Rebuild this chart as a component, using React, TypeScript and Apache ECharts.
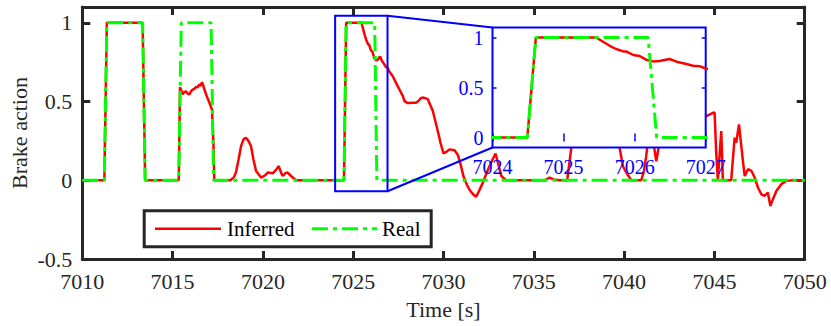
import React, { useEffect, useRef } from "react";
import * as echarts from "echarts";

// ---- data ----
const realT = [7010, 7011.22, 7011.36, 7013.34, 7013.48, 7015.34, 7015.48, 7017.13, 7017.27, 7024.49, 7024.61, 7026.19, 7026.31, 7050];
const realV = [0, 0, 1, 1, 0, 0, 1, 1, 0, 0, 1, 1, 0, 0];

const inferredT = [
  7010, 7011.22, 7011.36, 7013.34, 7013.48, 7015.34, 7015.41, 7015.48, 7015.56, 7015.65, 7015.74, 7015.83,
  7015.93, 7016.02, 7016.11, 7016.2, 7016.3, 7016.39, 7016.48, 7016.56, 7016.63, 7016.7, 7016.76, 7016.89,
  7017.04, 7017.18, 7017.26, 7017.31, 7018.2, 7018.4, 7018.51, 7018.65, 7018.79, 7018.93, 7019.06, 7019.2,
  7019.34, 7019.48, 7019.62, 7019.9, 7020.1, 7020.27, 7020.54, 7020.75, 7020.88, 7021.0, 7021.1, 7021.25,
  7021.37, 7021.56, 7021.84, 7024.49, 7024.61, 7025.46, 7025.55, 7025.65, 7025.74, 7025.84, 7025.88, 7025.98,
  7026.07, 7026.16, 7026.26, 7026.35, 7026.49, 7026.59, 7026.73, 7026.82, 7026.92, 7027.0, 7027.19, 7027.37,
  7027.56, 7027.75, 7027.84, 7028.02, 7028.3, 7028.48, 7028.58, 7028.76, 7028.9, 7029.13, 7029.41, 7029.69,
  7029.85, 7030.0, 7030.15, 7030.33, 7030.61, 7030.8, 7030.95, 7031.1, 7031.3, 7031.44, 7031.65, 7031.81,
  7032.0, 7032.18, 7032.4, 7032.55, 7032.75, 7032.88, 7033.01, 7033.2, 7033.47, 7035.6, 7035.87, 7036.1,
  7036.4, 7036.85, 7037.07, 7037.3, 7037.8, 7038.3, 7038.8, 7039.3, 7039.6, 7039.75, 7039.93, 7040.12,
  7040.4, 7040.95, 7041.1, 7041.22, 7041.32, 7041.5, 7041.65, 7041.78, 7041.9, 7042.0, 7042.5, 7043.0,
  7043.5, 7044.0, 7044.3, 7044.55, 7044.92, 7045.01, 7045.1, 7045.19, 7045.38, 7045.47, 7045.93, 7046.12,
  7046.21, 7046.36, 7046.49, 7046.6, 7046.68, 7046.86, 7047.05, 7047.23, 7047.41, 7047.6, 7047.78, 7047.96,
  7048.1, 7048.24, 7048.43, 7048.7, 7048.98, 7049.35, 7050
];
const inferredV = [
  0, 0, 1, 1, 0, 0, 0.59, 0.57, 0.545, 0.56, 0.565, 0.55,
  0.545, 0.565, 0.575, 0.58, 0.593, 0.59, 0.608, 0.6, 0.622, 0.6, 0.576, 0.534,
  0.492, 0.449, 0.24, 0, 0, 0.02, 0.05, 0.13, 0.217, 0.26, 0.27, 0.25,
  0.217, 0.13, 0.059, 0.017, 0.03, 0.049, 0.044, 0.07, 0.09, 0.05, 0.027, 0.045,
  0.049, 0.027, 0, 0, 1, 1, 0.96, 0.917, 0.885, 0.861, 0.861, 0.825,
  0.815, 0.778, 0.761, 0.765, 0.785, 0.758, 0.735, 0.718, 0.712, 0.69, 0.66, 0.618,
  0.576, 0.534, 0.502, 0.49, 0.492, 0.492, 0.5, 0.523, 0.525, 0.515, 0.44, 0.31,
  0.23, 0.17, 0.18, 0.196, 0.19, 0.16, 0.1, 0.027, -0.03, -0.06, -0.09, -0.105,
  -0.06, -0.015, 0.05, 0.09, 0.14, 0.17, 0.112, 0.027, 0, 0, 0.017, 0.005,
  0, 0, 0.2, 0.4, 0.45, 0.42, 0.38, 0.35, 0.28, 0.207, 0.09, 0.049,
  0, 0, 0.06, 0.15, 0.25, 0.3, 0.22, 0.12, 0.2, 0.3, 0.45, 0.42,
  0.44, 0.4, 0.41, 0.407, 0.428, 0.43, 0.175, 0, 0.312, 0, 0, 0.27,
  0.239, 0.354, 0.217, 0.1, 0.027, 0.07, 0.059, 0.017, -0.046, -0.089, -0.099, -0.078,
  -0.163, -0.12, -0.068, -0.025, -0.004, 0, 0
];

const xTicksMain = [7010, 7015, 7020, 7025, 7030, 7035, 7040, 7045, 7050];
const yTicksMain = [-0.5, 0, 0.5, 1];
const xTicksInset = [7024, 7025, 7026, 7027];
const yTicksInset = [0, 0.5, 1];
const mainRangeX = [7010, 7050];
const mainRangeY = [-0.5, 1.1];
const insetRangeX = [7024, 7027];
const insetRangeY = [-0.1, 1.1];
const zoomBoxX = [7024, 7026.9];
const zoomBoxY = [-0.07, 1.045];
const legendNames = ["Inferred", "Real"];

const serif = "Liberation Serif";
const dark = "#262626";
const blue = "#0000ff";
const red = "#ff0000";
const green = "#00ff00";
const dashDot = [16, 5, 4, 5];

const pairs = (t: number[], v: number[]) => t.map((x, i) => [x, v[i]]);

export default function App() {
  const ref = useRef<HTMLDivElement>(null);
  useEffect(() => {
    const chart = echarts.init(ref.current!, null, { renderer: "svg" });
    const inferred = pairs(inferredT, inferredV);
    const real = pairs(realT, realV);

    const mainX = (pos: string) => ({
      type: "value",
      gridIndex: 0,
      position: pos,
      min: mainRangeX[0],
      max: mainRangeX[1],
      interval: 5,
      axisLine: { show: true, onZero: false, lineStyle: { color: dark, width: 3 } },
      axisTick: { show: true, inside: true, length: 8, lineStyle: { color: dark, width: 3 } },
      axisLabel: { show: false },
      splitLine: { show: false },
    });
    const mainY = (pos: string) => ({
      type: "value",
      gridIndex: 0,
      position: pos,
      min: mainRangeY[0],
      max: mainRangeY[1],
      axisLine: { show: true, onZero: false, lineStyle: { color: dark, width: 3 } },
      axisTick: { show: true, inside: true, length: 8, customValues: yTicksMain, lineStyle: { color: dark, width: 3 } },
      axisLabel: { show: false },
      splitLine: { show: false },
    });
    const insetX = (pos: string) => ({
      type: "value",
      gridIndex: 1,
      position: pos,
      min: insetRangeX[0],
      max: insetRangeX[1],
      interval: 1,
      z: 11,
      axisLine: { show: false },
      axisTick: { show: true, inside: true, length: 4, lineStyle: { color: blue, width: 1.5 } },
      axisLabel: { show: false },
      splitLine: { show: false },
    });
    const insetY = (pos: string) => ({
      type: "value",
      gridIndex: 1,
      position: pos,
      min: insetRangeY[0],
      max: insetRangeY[1],
      z: 11,
      axisLine: { show: false },
      axisTick: { show: true, inside: true, length: 4, customValues: yTicksInset, lineStyle: { color: blue, width: 1.5 } },
      axisLabel: { show: false },
      splitLine: { show: false },
    });

    const lineSeries = (name: string, data: number[][], xi: number, yi: number, z: number) => ({
      type: "line",
      name,
      data,
      xAxisIndex: xi,
      yAxisIndex: yi,
      symbol: "none",
      showSymbol: false,
      z,
      color: name === "Real" ? green : red,
      lineStyle:
        name === "Real"
          ? { color: green, width: 3, type: dashDot, cap: "butt" }
          : { color: red, width: 2.5 },
      clip: true,
    });

    chart.setOption({
      animation: false,
      grid: [
        { left: 82.3, top: 7, width: 722.4, height: 252 },
        {
          left: 492.5,
          top: 27.5,
          width: 213.2,
          height: 120,
          show: true,
          backgroundColor: "#ffffff",
          borderColor: blue,
          borderWidth: 2,
          z: 10,
        },
      ],
      xAxis: [mainX("bottom"), mainX("top"), insetX("bottom"), insetX("top")],
      yAxis: [mainY("left"), mainY("right"), insetY("left"), insetY("right")],
      series: [
        lineSeries("Inferred", inferred, 0, 0, 2),
        lineSeries("Real", real, 0, 0, 3),
        lineSeries("Inferred", inferred, 2, 2, 12),
        lineSeries("Real", real, 2, 2, 13),
      ],
    });

    const mainPx = (p: number[]) => chart.convertToPixel({ xAxisIndex: 0, yAxisIndex: 0 }, p) as number[];
    const insetPx = (p: number[]) => chart.convertToPixel({ xAxisIndex: 2, yAxisIndex: 2 }, p) as number[];

    const txt = (text: string, x: number, y: number, size: number, fill: string, align: string, vAlign: string, z: number, rotation = 0) => ({
      type: "text",
      x,
      y,
      rotation,
      z,
      silent: true,
      style: { text, fontFamily: serif, fontSize: size, fill, align, verticalAlign: vAlign },
    });

    const elements: any[] = [];
    // tick labels through the axes' scales
    xTicksMain.forEach((v) => {
      const p = mainPx([v, mainRangeY[0]]);
      elements.push(txt(String(v), p[0], p[1] + 11, 22, dark, "center", "top", 5));
    });
    yTicksMain.forEach((v) => {
      const p = mainPx([mainRangeX[0], v]);
      elements.push(txt(String(v), p[0] - 10, p[1], 22, dark, "right", "middle", 5));
    });
    xTicksInset.forEach((v) => {
      const p = insetPx([v, insetRangeY[0]]);
      elements.push(txt(String(v), p[0], p[1] + 9, 20, blue, "center", "top", 15));
    });
    yTicksInset.forEach((v) => {
      const p = insetPx([insetRangeX[0], v]);
      elements.push(txt(String(v), p[0] - 9, p[1], 20, blue, "right", "middle", 15));
    });
    // axis titles
    const bl = mainPx([mainRangeX[0], mainRangeY[0]]);
    const tr = mainPx([mainRangeX[1], mainRangeY[1]]);
    elements.push(txt("Time [s]", (bl[0] + tr[0]) / 2, bl[1] + 50, 22, dark, "center", "middle", 5));
    elements.push(txt("Brake action", bl[0] - 63, (bl[1] + tr[1]) / 2, 22, dark, "center", "middle", 5, Math.PI / 2));

    // zoom box and connectors
    const ztl = mainPx([zoomBoxX[0], zoomBoxY[1]]);
    const zbr = mainPx([zoomBoxX[1], zoomBoxY[0]]);
    const itl = insetPx([insetRangeX[0], insetRangeY[1]]);
    const ibl = insetPx([insetRangeX[0], insetRangeY[0]]);
    elements.push(
      { type: "rect", z: 4, silent: true, shape: { x: ztl[0], y: ztl[1], width: zbr[0] - ztl[0], height: zbr[1] - ztl[1] }, style: { fill: "none", stroke: blue, lineWidth: 2 } },
      { type: "line", z: 4, silent: true, shape: { x1: zbr[0], y1: ztl[1], x2: itl[0], y2: itl[1] }, style: { stroke: blue, lineWidth: 2 } },
      { type: "line", z: 4, silent: true, shape: { x1: zbr[0], y1: zbr[1], x2: ibl[0], y2: ibl[1] }, style: { stroke: blue, lineWidth: 2 } }
    );

    // legend box
    const lx = 144.2;
    const ly = 210.8;
    const lh = 36;
    const lcy = ly + lh / 2;
    elements.push(
      { type: "rect", z: 20, silent: true, shape: { x: lx, y: ly, width: 287, height: lh }, style: { fill: "#ffffff", stroke: dark, lineWidth: 3 } },
      { type: "line", z: 21, silent: true, shape: { x1: 155, y1: lcy, x2: 221, y2: lcy }, style: { stroke: red, lineWidth: 2.5 } },
      txt(legendNames[0], 227, lcy, 21, "#000000", "left", "middle", 21),
      { type: "line", z: 21, silent: true, shape: { x1: 312, y1: lcy, x2: 377, y2: lcy }, style: { stroke: green, lineWidth: 3, lineDash: dashDot } },
      txt(legendNames[1], 382, lcy, 21, "#000000", "left", "middle", 21)
    );

    chart.setOption({ graphic: elements });

    return () => chart.dispose();
  }, []);
  return <div ref={ref} style={{ position: "absolute", left: 0, top: 0, width: 831, height: 326 }} />;
}
